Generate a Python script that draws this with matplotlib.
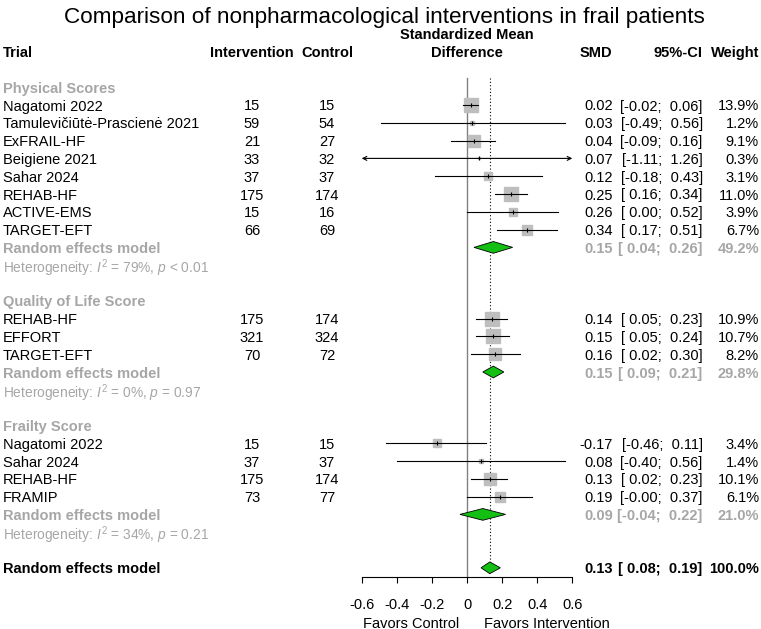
"""Forest plot: nonpharmacological interventions in frail patients."""
import matplotlib
matplotlib.use("Agg")
import matplotlib.pyplot as plt
from matplotlib.patches import Polygon
import numpy as np

plt.rcParams["font.family"] = ["Liberation Sans", "DejaVu Sans"]
plt.rcParams["mathtext.fontset"] = "custom"
plt.rcParams["mathtext.rm"] = "Liberation Sans"
plt.rcParams["mathtext.it"] = "Liberation Sans:italic"

# ---- data -------------------------------------------------------------
group_names = ["Physical Scores", "Quality of Life Score", "Frailty Score"]

phys_trials = ["Nagatomi 2022", "Tamulevičiūtė-Prascienė 2021", "ExFRAIL-HF", "Beigiene 2021",
               "Sahar 2024", "REHAB-HF", "ACTIVE-EMS", "TARGET-EFT"]
phys_n_int = [15, 59, 21, 33, 37, 175, 15, 66]
phys_n_ctl = [15, 54, 27, 32, 37, 174, 16, 69]
phys_smd = [0.02, 0.03, 0.04, 0.07, 0.12, 0.25, 0.26, 0.34]
phys_lo = [-0.02, -0.49, -0.09, -1.11, -0.18, 0.16, 0.00, 0.17]
phys_hi = [0.06, 0.56, 0.16, 1.26, 0.43, 0.34, 0.52, 0.51]
phys_w = [13.9, 1.2, 9.1, 0.3, 3.1, 11.0, 3.9, 6.7]

qol_trials = ["REHAB-HF", "EFFORT", "TARGET-EFT"]
qol_n_int = [175, 321, 70]
qol_n_ctl = [174, 324, 72]
qol_smd = [0.14, 0.15, 0.16]
qol_lo = [0.05, 0.05, 0.02]
qol_hi = [0.23, 0.24, 0.30]
qol_w = [10.9, 10.7, 8.2]

frail_trials = ["Nagatomi 2022", "Sahar 2024", "REHAB-HF", "FRAMIP"]
frail_n_int = [15, 37, 175, 73]
frail_n_ctl = [15, 37, 174, 77]
frail_smd = [-0.17, 0.08, 0.13, 0.19]
frail_lo = [-0.46, -0.40, 0.02, -0.0]
frail_hi = [0.11, 0.56, 0.23, 0.37]
frail_w = [3.4, 1.4, 10.1, 6.1]

# random effects per subgroup: est, lo, hi, weight, I2, p-text
re_smd = [0.15, 0.15, 0.09]
re_lo = [0.04, 0.09, -0.04]
re_hi = [0.26, 0.21, 0.22]
re_w = [49.2, 29.8, 21.0]
het_i2 = [79, 0, 34]
het_p = ["< 0.01", "= 0.97", "= 0.21"]

overall = (0.13, 0.08, 0.19, 100.0)

x_ticks = [-0.6, -0.4, -0.2, 0, 0.2, 0.4, 0.6]
x_ticklabels = ["-0.6", "-0.4", "-0.2", "0", "0.2", "0.4", "0.6"]

groups = [
    (phys_trials, phys_n_int, phys_n_ctl, phys_smd, phys_lo, phys_hi, phys_w),
    (qol_trials, qol_n_int, qol_n_ctl, qol_smd, qol_lo, qol_hi, qol_w),
    (frail_trials, frail_n_int, frail_n_ctl, frail_smd, frail_lo, frail_hi, frail_w),
]

# ---- layout -----------------------------------------------------------
W, H = 761, 629
ROW0, ROWH = 51.6, 17.8          # pixel y of row 0, row height
def row_of(py):
    return (py - ROW0) / ROWH

GREY = "#a6a6a6"
GREEN = "#12bf12"
SQ = "#bebebe"
FS = 10.5
VA = "center_baseline"

fig = plt.figure(figsize=(W / 100, H / 100), dpi=100)
tax = fig.add_axes([0, 0, 1, 1])
tax.set_xlim(0, W)
tax.set_ylim(row_of(H), row_of(0))
tax.axis("off")

ax_left, ax_right = 361.7, 572.3
ax_top, ax_bot = row_of(78.3), row_of(577)
fax = fig.add_axes([ax_left / W, 1 - 577 / H, (ax_right - ax_left) / W, (577 - 78.3) / H])
fax.set_xlim(-0.6, 0.6)
fax.set_ylim(ax_bot, ax_top)
fax.patch.set_alpha(0)
for s in ["top", "left", "right"]:
    fax.spines[s].set_visible(False)
fax.spines["bottom"].set_linewidth(0.8)
fax.set_yticks([])
fax.set_xticks(x_ticks)
fax.set_xticklabels(x_ticklabels)
fax.tick_params(axis="x", length=4.3, width=0.8, labelsize=FS, pad=11)

X_NAME, X_INT, X_CTL, X_SMD, X_CI, X_W = 3, 252, 327, 612.7, 702.7, 759

# title + header
tax.text(384, row_of(15), "Comparison of nonpharmacological interventions in frail patients",
         ha="center", va=VA, fontsize=16.2)
hdr = dict(fontsize=FS, fontweight="bold", va=VA)
tax.text(X_NAME, 0, "Trial", ha="left", **hdr)
tax.text(X_INT, 0, "Intervention", ha="center", **hdr)
tax.text(X_CTL, 0, "Control", ha="center", **hdr)
tax.text(466.9, -1, "Standardized Mean", ha="center", **hdr)
tax.text(466.9, 0, "Difference", ha="center", **hdr)
tax.text(X_SMD, 0, "SMD", ha="right", **hdr)
tax.text(X_CI, 0, "95%-CI", ha="right", **hdr)
tax.text(X_W, 0, "Weight", ha="right", **hdr)


def ci_text(lo, hi):
    return f"[{lo:5.2f}; {hi:5.2f}]"


def value_cols(r, est, lo, hi, w, **kw):
    tax.text(X_SMD, r, f"{est:.2f}", ha="right", va=VA, fontsize=FS, **kw)
    tax.text(X_CI, r, ci_text(lo, hi), ha="right", va=VA, fontsize=FS, **kw)
    tax.text(X_W, r, f"{w:.1f}%", ha="right", va=VA, fontsize=FS, **kw)


def diamond(r, est, lo, hi):
    h = 0.33
    fax.add_patch(Polygon([(lo, r), (est, r - h), (hi, r), (est, r + h)], closed=True,
                          facecolor=GREEN, edgecolor="black", lw=0.6, zorder=4, clip_on=False))


row = 2
for gi, (names, n_i, n_c, smd, lo, hi, w) in enumerate(groups):
    tax.text(X_NAME, row, group_names[gi], ha="left", va=VA, fontsize=FS,
             fontweight="bold", color=GREY)
    row += 1
    for k in range(len(names)):
        tax.text(X_NAME, row, names[k], ha="left", va=VA, fontsize=FS)
        tax.text(X_INT, row, str(n_i[k]), ha="center", va=VA, fontsize=FS)
        tax.text(X_CTL, row, str(n_c[k]), ha="center", va=VA, fontsize=FS)
        value_cols(row, smd[k], lo[k], hi[k], w[k])
        a, b = max(lo[k], -0.6), min(hi[k], 0.6)
        if a > lo[k] or b < hi[k]:
            fax.annotate("", xy=(b, row), xytext=(a, row),
                         arrowprops=dict(arrowstyle="<->", lw=0.8, color="black",
                                         shrinkA=0, shrinkB=0, mutation_scale=7),
                         zorder=3)
        else:
            fax.plot([a, b], [row, row], color="black", lw=0.8, zorder=3)
        fax.plot([smd[k]], [row], marker="s", ms=2.88 * np.sqrt(w[k]), color=SQ,
                 mec=SQ, zorder=2, clip_on=False)
        fax.plot([smd[k]], [row], marker="|", ms=3.5, mew=0.8, color="black", zorder=3)
        row += 1
    tax.text(X_NAME, row, "Random effects model", ha="left", va=VA, fontsize=FS,
             fontweight="bold", color=GREY)
    value_cols(row, re_smd[gi], re_lo[gi], re_hi[gi], re_w[gi], color=GREY, fontweight="bold")
    diamond(row, re_smd[gi], re_lo[gi], re_hi[gi])
    row += 1
    tax.text(X_NAME, row, rf"Heterogeneity: $I^2$ = {het_i2[gi]}%, $p$ {het_p[gi]}",
             ha="left", va=VA, fontsize=9.9, color=GREY)
    row += 2

# overall
tax.text(X_NAME, row, "Random effects model", ha="left", va=VA, fontsize=FS,
         fontweight="bold")
value_cols(row, *overall, fontweight="bold")
diamond(row, overall[0], overall[1], overall[2])

# reference lines
fax.plot([0, 0], [ax_top, ax_bot], color="#808080", lw=1.0, zorder=1, clip_on=False)
fax.plot([overall[0]] * 2, [ax_top, row - 0.33], color="black", lw=0.8, ls=(0, (1, 2)),
         zorder=1, clip_on=False)

fax.text(-0.32, row_of(622), "Favors Control", ha="center", va=VA, fontsize=FS,
         transform=fax.transData)
fax.text(0.453, row_of(622), "Favors Intervention", ha="center", va=VA, fontsize=FS,
         transform=fax.transData)

fig.savefig("out.png", dpi=100)
